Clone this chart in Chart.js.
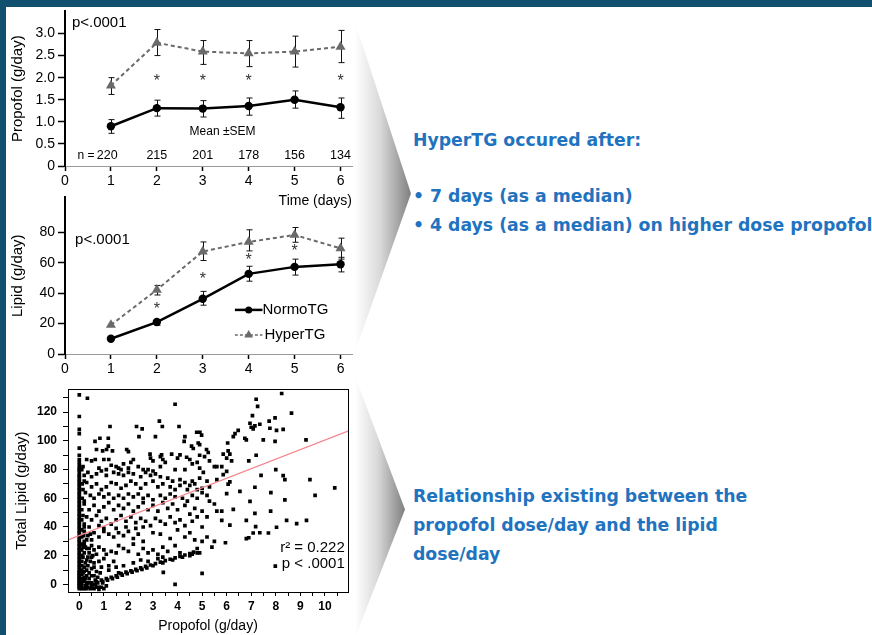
<!DOCTYPE html>
<html>
<head>
<meta charset="utf-8">
<script src="https://cdn.jsdelivr.net/npm/chart.js@4.4.1/dist/chart.umd.min.js"></script>
<style>
html, body { margin: 0; padding: 0; }
body { width: 872px; height: 635px; background: #12506f; position: relative; overflow: hidden; font-family: "Liberation Sans", Arial, sans-serif; }
#slide { position: absolute; left: 6px; top: 7px; right: 0; bottom: 0; background: #fff; }
canvas { position: absolute; }
.chev { position: absolute; background: linear-gradient(to right, #ffffff 0%, #d9d9d9 45%, #808080 100%); }
.txt { position: absolute; left: 413px; color: #1f73bf; font: bold 17.3px "DejaVu Sans", sans-serif; line-height: 29px; white-space: nowrap; }
</style>
</head>
<body>
<div id="slide"></div>
<div class="chev" style="left:355px;top:22px;width:56px;height:330px;clip-path:polygon(0 0,100% 52%,0 100%);"></div>
<div class="chev" style="left:355px;top:376px;width:50px;height:262px;clip-path:polygon(0 0,100% 51%,0 100%);"></div>
<canvas id="lipidChart" width="362" height="196" style="left:0;top:186px"></canvas>
<canvas id="propofolChart" width="362" height="212" style="left:0;top:0"></canvas>
<canvas id="scatterChart" width="352" height="259" style="left:0;top:376px"></canvas>
<div class="txt" style="top:126px">HyperTG occured after:</div>
<div class="txt" style="top:182px">• 7 days (as a median)</div>
<div class="txt" style="top:211px">• 4 days (as a median) on higher dose propofol</div>
<div class="txt" style="top:482px">Relationship existing between the</div>
<div class="txt" style="top:511px">propofol dose/day and the lipid</div>
<div class="txt" style="top:540px">dose/day</div>
<script>
// top panel: propofol g/day by day
const days = [1, 2, 3, 4, 5, 6];
const propofolNormo = [0.90, 1.31, 1.30, 1.36, 1.50, 1.33];
const propofolNormoLow = [0.74, 1.13, 1.11, 1.15, 1.31, 1.08];
const propofolNormoHigh = [1.05, 1.49, 1.48, 1.54, 1.70, 1.54];
const propofolHyper = [1.82, 2.79, 2.59, 2.55, 2.59, 2.70];
const propofolHyperLow = [1.62, 2.50, 2.30, 2.25, 2.24, 2.34];
const propofolHyperHigh = [2.00, 3.09, 2.84, 2.84, 2.94, 3.07];
const propofolStarDays = [2, 3, 4, 6];
const nPatients = ['220', '215', '201', '178', '156', '134'];

// middle panel: lipid g/day by day
const lipidNormo = [10, 21, 36.3, 52.7, 57.3, 59];
const lipidNormoLow = [10, 18.9, 32.1, 47.9, 51.9, 54];
const lipidNormoHigh = [10, 22.7, 41.2, 57.7, 62.4, 63.6];
const lipidHyper = [19.1, 42.2, 67.4, 73.7, 78.3, 69.5];
const lipidHyperLow = [19.1, 38.8, 61.5, 67.8, 73.5, 62.4];
const lipidHyperHigh = [19.1, 45.1, 73.7, 81.7, 83.2, 76.2];
const lipidStarDays = [2, 3, 4, 5];
const lipidStarLevel = [31, 51, 63.6, 69.5];

// bottom panel: total lipid vs propofol, one entry per patient-day
const zeroDoseLipid = [-3, -2, -1, 0, 1, 2, 3, 4, 5, 6, 7, 8, 9, 10, 12, 13, 15, 16, 18, 19, 21, 22, 24, 25, 27, 28, 30, 31, 33, 34, 36, 37, 39, 40, 42, 43, 45, 46, 48, 49, 51, 52, 54, 55, 57, 58, 60, 61, 63, 64, 66, 67, 69, 70, 72, 73, 75, 76, 78, 80, 81, 83, 85, 87, 90, 95, 105, 108, 117, 132];
const nearZeroPoints = [[0.1,-3],[0.1,-1],[0.1,1],[0.1,4],[0.1,7],[0.1,10],[0.1,13],[0.1,16],[0.1,20],[0.1,24],[0.1,28],[0.1,33],[0.1,38],[0.1,45],[0.1,52],[0.12,60],[0.12,70],[0.1,80],
  [0.2,-3],[0.25,-1],[0.3,-3],[0.35,-2],[0.45,-3],[0.5,-1],[0.6,-3],[0.7,-2],[0.8,-3.5],[0.9,-2],[0.2,2],[0.3,1],[0.4,1],[0.2,5],[0.15,8],[0.25,4],[0.4,4],[0.6,6],[0.3,10],[0.4,8],[0.5,11],[0.7,9],[0.9,12],[0.2,12],[0.25,15],[0.2,22],[0.25,26],[0.2,30],
  [0.15,3],[0.2,9],[0.3,6],[0.35,13],[0.45,16],[0.55,20],[0.4,25],[0.3,31],[0.45,35],[0.5,6],[0.65,3],[0.75,5],[0.85,8],[0.35,19],[0.6,12],[0.15,26],[0.18,34],[0.2,40],[0.15,48],[0.2,58],[0.15,66],[0.2,72],[0.15,82],
  [1.0,-3],[1.1,-1],[0.95,1],[0.55,-2.5],[0.65,0]];
const bandPoints = [[0.3,0],[0.5,1],[0.55,0],[0.7,2],[0.75,1],[0.9,3],[0.95,2],[1.1,4],[1.15,3],[1.3,5],[1.35,4],[1.5,6],[1.55,5],[1.7,7.5],[1.75,6.5],[1.9,8.5],[1.95,7.5],[2.1,9.5],[2.15,8.5],[2.3,10.5],[2.35,9.5],[2.5,11.5],[2.55,10.5],[2.7,12.5],[2.75,11.5],[2.9,13.5],[3.0,13],[3.1,14.5],[3.3,15.5],[3.4,15],[3.5,16.5],[3.7,17.5],[3.8,17],[3.9,18.5],[4.1,19.5],[4.2,19],[4.3,20.5],[4.5,21.5],[4.6,21],[4.65,22.5],[4.8,22],
  [1.6,8],[3.42,8.4],[3.9,0],[5.0,7.7],[0.8,-2],[1.2,10],[1.5,12],[1.8,13],[2.2,15],[2.5,17],[2.8,16],[3.2,18],[3.4,19],[7.98,12.7]];
const cloudPoints = [
  [0.33,129.7],[3.9,125.5],[7.2,129],[7.26,124],[8.24,133],[8.64,119.3],[7.05,117.6],[3.26,113.8],[3.38,110],[1.25,110],[4.06,110],[2.33,110],[2.56,108.4],
  [6.47,107.3],[6.95,112.3],[7.0,109.5],[7.08,108.4],[7.15,110.5],[7.35,111.6],[7.73,113.8],[7.97,116],[7.76,108.8],[8.03,107.3],[8.3,108],[6.34,105],[6.27,102.9],
  [6.74,101.8],[6.8,100.7],[7.49,100.7],[7.97,99.6],[9.23,100.7],[6.04,98.5],[4.78,106],[4.91,106],[4.98,104],[4.3,102.9],[4.27,99.6],[3.1,102.9],[2.43,102.9],
  [0.84,101.8],[0.64,99.6],[0.7,94],[1.18,101.8],[1.18,96.3],[1.11,94],[1.93,94],[2.0,92.5],[2.88,90.8],[3.35,90.3],[3.76,90.8],[4.1,90.3],[4.37,88.6],
  [4.57,96.3],[4.64,94.7],[4.84,98.5],[4.9,97.4],[5.18,94],[5.25,91.9],[6.13,90.8],[6.06,93],[5.86,90.8],[0.95,93],[1.35,93],
  [0.3,87],[0.5,86],[0.65,87],[1.0,87],[1.2,87],[2.2,87],[2.1,85],[2.0,81],[1.6,81],[1.7,80],[1.5,82],[1.3,83],[1.8,84],[2.4,82],[2.6,80],[2.9,88],[3.0,86],
  [3.3,89],[3.4,87],[3.5,85],[3.3,82],[4.0,88],[4.5,87],[4.6,84],[4.8,85],[4.9,90],[5.1,89],[5.3,86],[5.5,82],[5.8,82],[6.0,88],[6.2,86],[6.9,86],[7.2,90],
  [4.9,81],[3.9,80],[3.0,79],[2.8,80],[4.3,80],[5.05,78],[0.8,81],[1.1,80],[5.6,82],[5.86,76.5],[6.0,78.7],[8.0,80],
  [0.2,76],[0.35,78],[0.5,75],[0.7,77],[0.9,79],[1.1,76],[1.4,78],[1.6,77],[1.8,76],[2.0,78],[2.2,77],[2.5,75],[2.7,78],[2.9,76],[3.1,77],[3.3,75],[3.6,74],
  [3.8,72],[4.1,73],[4.3,71],[4.6,72],[4.7,70],[4.9,74],[5.2,72],[5.3,68],[5.6,73],[6.13,71.4],[6.06,69.9],[6.0,63.3],[6.54,64.8],[7.15,67.7],[7.4,76],
  [8.3,75.8],[8.37,73],[9.39,73],[10.4,67.3],[9.6,62],[8.37,58.9],[7.8,64],[6.95,57.8],[6.27,52.3],
  [0.3,71],[0.5,68],[0.7,70],[0.9,66],[1.1,68],[1.3,71],[1.5,70],[1.7,67],[1.9,69],[2.1,72],[2.3,70],[2.5,67],[2.7,70],[3.0,72],[3.2,68],[3.4,70],[3.7,68],
  [3.9,66],[4.1,69],[4.4,66],[4.5,69],[4.8,66],[5.0,67],
  [0.25,64],[0.45,62],[0.6,60],[0.8,63],[1.0,61],[1.2,63],[1.4,60],[1.6,62],[1.8,60],[2.0,63],[2.2,61],[2.4,63],[2.6,60],[2.8,62],[3.0,59],[3.3,62],[3.5,60],
  [3.7,63],[3.9,61],[4.2,60],[4.4,58],[4.6,62],[4.8,60],[5.0,64],[5.3,58],[5.5,56],[5.2,62],
  [0.2,56],[0.4,52],[0.6,55],[0.8,51],[1.0,54],[1.2,57],[1.4,52],[1.6,55],[1.8,53],[2.0,56],[2.2,51],[2.4,54],[2.6,57],[2.8,52],[3.0,55],[3.2,51],[3.4,57],
  [3.6,53],[3.8,56],[4.0,52],[4.3,55],[4.5,49],[4.7,53],[5.0,51],[5.2,47],[5.6,51],[5.8,51],[7.79,51],[7.15,49.5],[6.8,44.6],[5.8,44.6],[6.13,41.3],
  [8.44,44.6],[8.85,42.4],[9.25,44.6],[8.03,39.8],[7.18,40.2],
  [0.3,47],[0.5,45],[0.7,48],[0.9,44],[1.1,46],[1.3,42],[1.5,45],[1.7,48],[1.9,44],[2.1,47],[2.3,43],[2.5,46],[2.7,44],[2.9,41],[3.1,46],[3.3,44],[3.5,42],
  [3.7,47],[3.9,43],[4.1,45],[4.3,41],[4.6,44],[4.8,47],[5.0,40],
  [0.2,42],[0.4,40],[0.8,41],[1.0,39],[1.5,39],[1.9,40],[2.3,39],[2.6,40],
  [0.2,37],[0.35,34],[0.5,31],[0.6,36],[0.8,33],[1.0,37],[1.2,35],[1.4,33],[1.6,36],[1.8,34],[2.0,37],[2.2,32],[2.4,35],[2.6,30],[3.0,36],[3.3,35],[3.7,32],
  [4.0,38],[4.3,33],[4.5,36],[4.7,31],[5.0,30],[5.2,33],[5.5,30],[5.95,29],[6.9,32.5],[6.8,31.9],[7.08,35.8],[7.35,36],[7.7,35.8],
  [0.2,28],[0.3,25],[0.4,22],[0.5,27],[0.6,24],[0.7,21],[0.8,26],[1.0,24],[1.1,21],[1.3,23],[1.5,22],[1.6,27],[1.8,25],[2.0,23],[2.2,28],[2.4,21],[2.6,25],
  [2.8,22],[3.0,24],[3.2,21],[3.4,26],[3.6,23],[3.9,27],[4.1,22],[4.5,20],[4.8,25],[4.9,22],[5.4,26],
  [0.15,19],[0.3,17],[0.5,19],[0.6,15],[0.8,16],[1.0,18],[1.2,13],[1.4,16]
];
const fitX = [-0.46, 10.94];
const fitY = [31, 106.8];

const FONT = 'Liberation Sans';

function pts(xs, ys) {
  return xs.map((x, i) => ({ x: x, y: ys[i] }));
}

// draws error bars, text notes, in-plot legend and plot frame
const slideMarks = {
  id: 'slideMarks',
  beforeDatasetsDraw(chart) {
    const ctx = chart.ctx, xs = chart.scales.x, ys = chart.scales.y;
    chart.data.datasets.forEach(ds => {
      if (!ds.low) return;
      ctx.save();
      ctx.strokeStyle = '#111';
      ctx.lineWidth = 1;
      ds.data.forEach((p, i) => {
        if (ds.low[i] === ds.high[i]) return;
        const x = Math.round(xs.getPixelForValue(p.x)) + 0.5;
        const y1 = ys.getPixelForValue(ds.low[i]);
        const y2 = ys.getPixelForValue(ds.high[i]);
        ctx.beginPath();
        ctx.moveTo(x, y1); ctx.lineTo(x, y2);
        ctx.moveTo(x - 3, y1); ctx.lineTo(x + 3, y1);
        ctx.moveTo(x - 3, y2); ctx.lineTo(x + 3, y2);
        ctx.stroke();
      });
      ctx.restore();
    });
  },
  afterDraw(chart) {
    const opts = chart.options.plugins.slideMarks || {};
    const ctx = chart.ctx, xs = chart.scales.x, ys = chart.scales.y;
    ctx.save();
    if (opts.frame) {
      const a = chart.chartArea;
      ctx.strokeStyle = '#000';
      ctx.lineWidth = 1;
      ctx.strokeRect(Math.round(a.left) + 0.5, Math.round(a.top) + 0.5, Math.round(a.right - a.left), Math.round(a.bottom - a.top));
    }
    (opts.legend || []).forEach(item => {
      const x1 = xs.getPixelForValue(item.x1), x2 = xs.getPixelForValue(item.x2);
      const y = ys.getPixelForValue(item.y);
      ctx.strokeStyle = item.color;
      ctx.fillStyle = item.color;
      ctx.lineWidth = item.width;
      ctx.setLineDash(item.dash || []);
      ctx.beginPath(); ctx.moveTo(x1, y); ctx.lineTo(x2, y); ctx.stroke();
      ctx.setLineDash([]);
      Chart.helpers.drawPoint(ctx, { pointStyle: item.style, radius: item.radius, borderWidth: 0, rotation: 0 }, (x1 + x2) / 2, y);
      ctx.fillStyle = '#000';
      ctx.font = '15px "' + FONT + '"';
      ctx.textAlign = 'left';
      ctx.textBaseline = 'middle';
      ctx.fillText(item.text, x2 + item.gap, y);
    });
    (opts.notes || []).forEach(n => {
      ctx.fillStyle = n.color || '#000';
      ctx.font = n.font;
      ctx.textAlign = n.align || 'center';
      ctx.textBaseline = 'middle';
      ctx.fillText(n.text, xs.getPixelForValue(n.x), ys.getPixelForValue(n.y));
    });
    ctx.restore();
  }
};

function timeAxis(max, height, title) {
  return {
    type: 'linear', min: 0, max: max,
    ticks: { stepSize: 1, includeBounds: false, color: '#000', padding: 2, maxRotation: 0, font: { family: FONT, size: 14 } },
    grid: { drawOnChartArea: false, tickLength: 5, tickColor: '#000', tickWidth: 1.5 },
    border: { color: '#9a9a9a', width: 1 },
    title: { display: !!title, text: title, align: 'end', color: '#000', font: { family: FONT, size: 14 }, padding: { top: 0, bottom: 2 } },
    afterFit: s => { s.height = height; }
  };
}

function valueAxis(max, step, topTick, title, fmt) {
  return {
    min: 0, max: max,
    ticks: { stepSize: step, includeBounds: false, color: '#000', padding: 3, font: { family: FONT, size: 14 }, callback: fmt },
    grid: { drawOnChartArea: false, tickLength: 7, tickColor: '#000', tickWidth: 1.5 },
    border: { color: '#000', width: 2 },
    title: { display: true, text: title, color: '#000', font: { family: FONT, size: 15 }, padding: { top: 9 } },
    afterBuildTicks: s => { s.ticks = s.ticks.filter(t => t.value <= topTick + 1e-9); },
    afterFit: s => { s.width = 65; }
  };
}

function normoSet(ys, low, high) {
  return { label: 'NormoTG', data: pts(days, ys), low: low, high: high, borderColor: '#000', backgroundColor: '#000',
    borderWidth: 2.5, pointStyle: 'circle', pointRadius: 4.2, pointBorderWidth: 0 };
}
function hyperSet(ys, low, high) {
  return { label: 'HyperTG', data: pts(days, ys), low: low, high: high, borderColor: '#6a6a6a', backgroundColor: '#6a6a6a',
    borderWidth: 2, borderDash: [4, 3], pointStyle: 'triangle', pointRadius: 5.8, pointBorderWidth: 0 };
}

const propofolNotes = [
  { text: 'p<.0001', x: 0.15, y: 3.24, align: 'left', font: '15px "' + FONT + '"' },
  { text: 'Mean ±SEM', x: 3.43, y: 0.77, font: '12px "' + FONT + '"' },
  { text: 'n =', x: 0.46, y: 0.24, font: '12px "' + FONT + '"' }
];
nPatients.forEach((n, i) => propofolNotes.push({ text: n, x: days[i] - (i === 0 ? 0.08 : 0), y: 0.24, font: '12.5px "' + FONT + '"' }));
propofolStarDays.forEach(d => propofolNotes.push({ text: '*', x: d, y: 1.9, font: '16px "' + FONT + '"', color: '#333' }));

new Chart(document.getElementById('propofolChart'), {
  type: 'line',
  data: { datasets: [normoSet(propofolNormo, propofolNormoLow, propofolNormoHigh), hyperSet(propofolHyper, propofolHyperLow, propofolHyperHigh)] },
  options: {
    responsive: false, animation: false, events: [],
    layout: { padding: { top: 8, right: 10, left: 0, bottom: 0 } },
    plugins: { legend: { display: false }, tooltip: { enabled: false }, slideMarks: { notes: propofolNotes } },
    scales: {
      x: timeAxis(6.25, 46, 'Time (days)'),
      y: valueAxis(3.5, 0.5, 3.0, 'Propofol (g/day)', v => v === 0 ? '0' : v.toFixed(1))
    }
  },
  plugins: [slideMarks]
});

const lipidNotes = [{ text: 'p<.0001', x: 0.22, y: 75, align: 'left', font: '15px "' + FONT + '"' }];
lipidStarDays.forEach((d, i) => lipidNotes.push({ text: '*', x: d, y: lipidStarLevel[i] - 2, font: '16px "' + FONT + '"', color: '#333' }));

new Chart(document.getElementById('lipidChart'), {
  type: 'line',
  data: { datasets: [normoSet(lipidNormo, lipidNormoLow, lipidNormoHigh), hyperSet(lipidHyper, lipidHyperLow, lipidHyperHigh)] },
  options: {
    responsive: false, animation: false, events: [],
    layout: { padding: { top: 5, right: 10, left: 0, bottom: 0 } },
    plugins: {
      legend: { display: false }, tooltip: { enabled: false },
      slideMarks: {
        notes: lipidNotes,
        legend: [
          { text: 'NormoTG', x1: 3.7, x2: 4.3, y: 29, color: '#000', width: 2.5, style: 'circle', radius: 3.5, gap: 0 },
          { text: 'HyperTG', x1: 3.7, x2: 4.3, y: 12.5, color: '#6a6a6a', width: 1.5, dash: [3, 2], style: 'triangle', radius: 5, gap: 2 }
        ]
      }
    },
    scales: {
      x: timeAxis(6.25, 28, ''),
      y: valueAxis(103, 20, 80, 'Lipid (g/day)', v => v)
    }
  },
  plugins: [slideMarks]
});

const scatterData = zeroDoseLipid.map(y => ({ x: 0, y: y }))
  .concat(nearZeroPoints.map(p => ({ x: p[0], y: p[1] })))
  .concat(bandPoints.map(p => ({ x: p[0], y: p[1] })))
  .concat(cloudPoints.map(p => ({ x: p[0], y: p[1] })));

new Chart(document.getElementById('scatterChart'), {
  type: 'scatter',
  data: {
    datasets: [
      { type: 'line', data: pts(fitX, fitY), borderColor: '#f2858c', borderWidth: 1.2, pointRadius: 0 },
      { data: scatterData, pointStyle: 'rect', pointRadius: 2.6, backgroundColor: '#000', borderWidth: 0 }
    ]
  },
  options: {
    responsive: false, animation: false, events: [],
    layout: { padding: { top: 2, right: 4, left: 0, bottom: 0 } },
    plugins: {
      legend: { display: false }, tooltip: { enabled: false },
      slideMarks: {
        frame: true,
        notes: [
          { text: 'r² = 0.222', x: 10.81, y: 25.2, align: 'right', font: '15px "' + FONT + '"' },
          { text: 'p < .0001', x: 10.81, y: 14, align: 'right', font: '15px "' + FONT + '"' }
        ]
      }
    },
    scales: {
      x: {
        type: 'linear', min: -0.46, max: 10.94,
        ticks: { stepSize: 0.5, includeBounds: false, color: '#000', padding: 3, maxRotation: 0, autoSkip: false,
          font: { family: FONT, size: 12, weight: 'bold' }, callback: v => Number.isInteger(v) ? v : '' },
        grid: { drawOnChartArea: false, tickLength: 4, tickColor: '#000' },
        border: { color: '#000', width: 1 },
        title: { display: true, text: 'Propofol (g/day)', color: '#000', font: { family: FONT, size: 14 }, padding: { top: 0, bottom: 0 } },
        afterFit: s => { s.height = 43; }
      },
      y: {
        min: -5.3, max: 136,
        ticks: { stepSize: 10, includeBounds: false, color: '#000', padding: 6, autoSkip: false,
          font: { family: FONT, size: 12, weight: 'bold' }, callback: v => v % 20 === 0 ? v : '' },
        grid: { drawOnChartArea: false, tickLength: 5, tickColor: '#000' },
        border: { color: '#000', width: 1 },
        title: { display: true, text: 'Total Lipid (g/day)', color: '#000', font: { family: FONT, size: 15 }, padding: { top: 13 } },
        afterFit: s => { s.width = 68; }
      }
    }
  },
  plugins: [slideMarks]
});
</script>
</body>
</html>
